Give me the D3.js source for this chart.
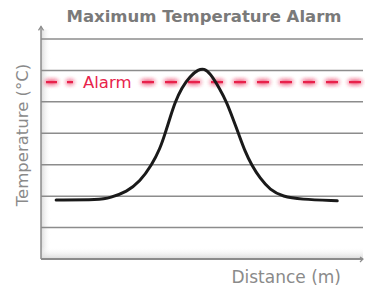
<!DOCTYPE html>
<html><head><meta charset="utf-8">
<script src="https://cdn.jsdelivr.net/npm/d3@7"></script>
<style>body{margin:0;background:#fff}svg{display:block}</style>
</head><body>
<script>
const title = "Maximum Temperature Alarm";
const xLabel = "Distance (m)";
const yLabel = "Temperature (°C)";
const alarmLabel = "Alarm";
const alarmValue = 5.63;
const gridValues = [1,2,3,4,5,6,7];
const distance = [0.47,1.83,2.14,2.67,3.07,3.44,3.70,3.85,4.01,4.16,4.37,4.63,4.89,5.06,5.25,5.56,5.77,5.97,6.13,6.34,6.54,6.80,7.11,7.52,8.04,9.20];
const temperature = [1.88,1.88,1.95,2.14,2.46,2.99,3.52,3.98,4.50,4.98,5.45,5.82,6.03,6.06,5.92,5.40,4.98,4.44,4.00,3.41,2.99,2.57,2.20,1.98,1.90,1.85];

const W = 365, H = 290;
const svg = d3.select("body").append("svg").attr("width", W).attr("height", H);
const x = d3.scaleLinear().domain([0,10]).range([41,363]);
const y = d3.scaleLinear().domain([0,7]).range([259,39]);
const defs = svg.append("defs");
const gL = defs.append("linearGradient").attr("id","shL").attr("x1",0).attr("x2",1).attr("y1",0).attr("y2",0);
gL.append("stop").attr("offset",0).attr("stop-color","#d8d8d8");
gL.append("stop").attr("offset",1).attr("stop-color","#fff").attr("stop-opacity",0);
const gB = defs.append("linearGradient").attr("id","shB").attr("x1",0).attr("x2",0).attr("y1",1).attr("y2",0);
gB.append("stop").attr("offset",0).attr("stop-color","#d8d8d8");
gB.append("stop").attr("offset",1).attr("stop-color","#fff").attr("stop-opacity",0);
const glow = defs.append("filter").attr("id","glow").attr("filterUnits","userSpaceOnUse")
  .attr("x",0).attr("y",0).attr("width",W).attr("height",H);
glow.append("feGaussianBlur").attr("in","SourceGraphic").attr("stdDeviation",2.5).attr("result","b");
const m = glow.append("feMerge");
m.append("feMergeNode").attr("in","b");
m.append("feMergeNode").attr("in","b");
m.append("feMergeNode").attr("in","SourceGraphic");

// shading
svg.append("rect").attr("x",x(0)).attr("y",y(7.3)).attr("width",10).attr("height",y(0)-y(7.3)).attr("fill","url(#shL)");
svg.append("rect").attr("x",x(0)).attr("y",y(0)-12).attr("width",x(10)-x(0)).attr("height",12).attr("fill","url(#shB)");

// grid
svg.append("g").selectAll("line").data(gridValues).join("line")
  .attr("x1",x(0)).attr("x2",x(10)).attr("y1",d=>y(d)).attr("y2",d=>y(d))
  .attr("stroke","#8c8c8c").attr("stroke-width",1.5);

// axes
svg.append("line").attr("x1",x(0)).attr("x2",x(0)).attr("y1",y(0)).attr("y2",y(7.4)).attr("stroke","#8c8c8c").attr("stroke-width",1.5);
svg.append("path").attr("d",`M${x(0)-2.5},${y(7.4)+4}L${x(0)},${y(7.4)}L${x(0)+2.5},${y(7.4)+4}`).attr("fill","none").attr("stroke","#8c8c8c").attr("stroke-width",1.2);
svg.append("line").attr("x1",x(0)).attr("x2",x(10)).attr("y1",y(0)).attr("y2",y(0)).attr("stroke","#8c8c8c").attr("stroke-width",1.8);
svg.append("path").attr("d",`M${x(10)-3},${y(0)-2}L${x(10)},${y(0)}L${x(10)-3},${y(0)+3}`).attr("fill","none").attr("stroke","#8c8c8c").attr("stroke-width",1.2);

// alarm
const red = "#e8234b";
const ay = y(alarmValue);
const aG = svg.append("g").attr("filter","url(#glow)");
aG.append("line").attr("x1",46).attr("x2",73).attr("y1",ay).attr("y2",ay)
  .attr("stroke",red).attr("stroke-width",2.2).attr("stroke-dasharray","11,10,6,100");
aG.append("line").attr("x1",142).attr("x2",x(10)).attr("y1",ay).attr("y2",ay)
  .attr("stroke",red).attr("stroke-width",2.2).attr("stroke-dasharray","12,11");
svg.append("text").attr("x",83).attr("y",ay+6).text(alarmLabel)
  .attr("font-family","DejaVu Sans").attr("font-size",16.5).attr("fill",red);

// curve
const line = d3.line().x((d,i)=>x(distance[i])).y(d=>y(d)).curve(d3.curveBasis);
svg.append("path").attr("d",line(temperature)).attr("fill","none").attr("stroke","#1a1a1a").attr("stroke-width",3).attr("stroke-linecap","round");

// texts
svg.append("text").attr("x",204).attr("y",22).attr("text-anchor","middle").text(title)
  .attr("font-family","DejaVu Sans").attr("font-weight","bold").attr("font-size",16.5).attr("fill","#7a7a7a");
svg.append("text").attr("transform","translate(28,135) rotate(-90)").attr("text-anchor","middle").text(yLabel)
  .attr("font-family","DejaVu Sans").attr("font-size",16.5).attr("fill","#8a8a8a");
svg.append("text").attr("x",341).attr("y",283).attr("text-anchor","end").text(xLabel)
  .attr("font-family","DejaVu Sans").attr("font-size",17).attr("fill","#8a8a8a");
</script>
</body></html>
